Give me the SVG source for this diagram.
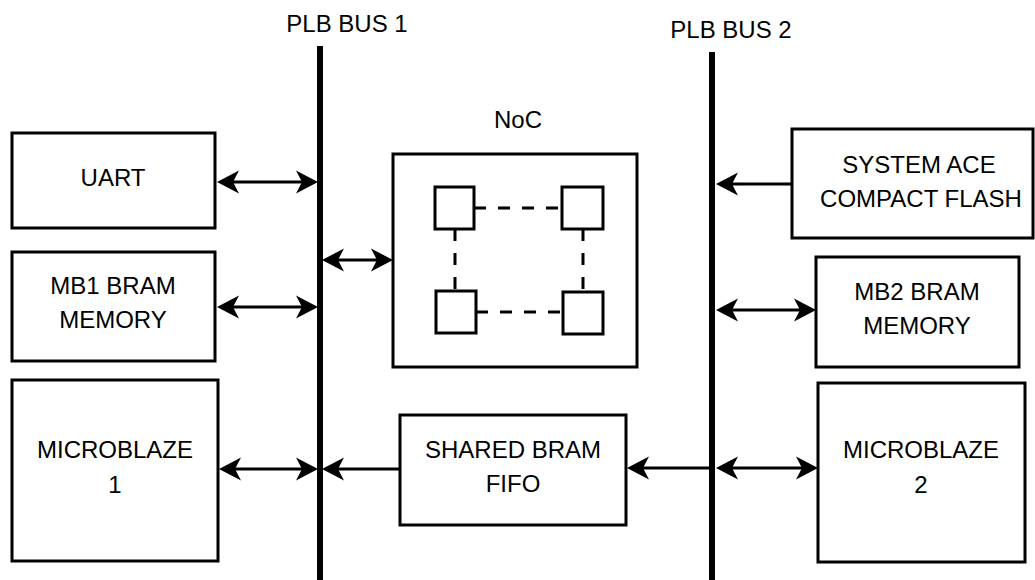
<svg xmlns="http://www.w3.org/2000/svg" width="1035" height="580" viewBox="0 0 1035 580">
<style>
.box{fill:#fff;stroke:#000;stroke-width:3}
.sq{fill:#fff;stroke:#000;stroke-width:3}
.bus{stroke:#000;stroke-width:6}
.dash{stroke:#000;stroke-width:3;stroke-dasharray:12,12;fill:none}
.con{stroke:#000;stroke-width:3;fill:none}
text{font-family:"Liberation Sans",Arial,sans-serif;font-size:24px;fill:#000;text-anchor:middle}
</style>
<defs>
<marker id="ah" markerUnits="userSpaceOnUse" markerWidth="24" markerHeight="26" refX="6" refY="12" orient="auto-start-reverse">
<path d="M0,0.5 L22,12 L0,23.5 L6,12 Z" fill="#000"/>
</marker>
</defs>
<g id="bus1"><line class="bus" x1="320" y1="46" x2="320" y2="580"/><text x="347" y="32">PLB BUS 1</text></g>
<g id="bus2"><line class="bus" x1="712" y1="52" x2="712" y2="580"/><text x="731" y="38">PLB BUS 2</text></g>
<g id="uart"><rect class="box" x="12" y="133" width="203" height="95"/><text x="113" y="186">UART</text></g>
<g id="mb1bram"><rect class="box" x="12" y="252" width="203" height="109"/><text x="113" y="294">MB1 BRAM</text><text x="113" y="328">MEMORY</text></g>
<g id="mb1"><rect class="box" x="12" y="380" width="206" height="181"/><text x="115" y="458">MICROBLAZE</text><text x="115" y="493">1</text></g>
<g id="noc">
<text x="518" y="128">NoC</text>
<rect class="box" x="393" y="154" width="244" height="213"/>
<line class="dash" x1="474" y1="208" x2="562" y2="208"/>
<line class="dash" x1="476" y1="312" x2="563" y2="312"/>
<line class="dash" x1="455" y1="229" x2="455" y2="291"/>
<line class="dash" x1="583" y1="229" x2="583" y2="292"/>
<rect class="sq" x="435" y="187" width="39" height="42"/>
<rect class="sq" x="562" y="187" width="41" height="42"/>
<rect class="sq" x="436" y="291" width="40" height="42"/>
<rect class="sq" x="563" y="292" width="40" height="42"/>
</g>
<g id="fifo"><rect class="box" x="400" y="415" width="226" height="110"/><text x="513" y="458">SHARED BRAM</text><text x="513" y="492">FIFO</text></g>
<g id="sysace"><rect class="box" x="792" y="129" width="241" height="109"/><text x="919" y="173">SYSTEM ACE</text><text x="921" y="207">COMPACT FLASH</text></g>
<g id="mb2bram"><rect class="box" x="816" y="257" width="203" height="110"/><text x="917" y="300">MB2 BRAM</text><text x="917" y="334">MEMORY</text></g>
<g id="mb2"><rect class="box" x="818" y="383" width="207" height="179"/><text x="921" y="458">MICROBLAZE</text><text x="921" y="493">2</text></g>
<g id="connectors">
<line class="con" x1="233" y1="182" x2="302" y2="182" marker-start="url(#ah)" marker-end="url(#ah)"/>
<line class="con" x1="233" y1="307" x2="302" y2="307" marker-start="url(#ah)" marker-end="url(#ah)"/>
<line class="con" x1="338" y1="260" x2="377" y2="260" marker-start="url(#ah)" marker-end="url(#ah)"/>
<line class="con" x1="235" y1="469" x2="302" y2="469" marker-start="url(#ah)" marker-end="url(#ah)"/>
<line class="con" x1="400" y1="469" x2="338" y2="469" marker-end="url(#ah)"/>
<line class="con" x1="792" y1="184" x2="732" y2="184" marker-end="url(#ah)"/>
<line class="con" x1="732" y1="310" x2="800" y2="310" marker-start="url(#ah)" marker-end="url(#ah)"/>
<line class="con" x1="712" y1="468" x2="643" y2="468" marker-end="url(#ah)"/>
<line class="con" x1="732" y1="468" x2="802" y2="468" marker-start="url(#ah)" marker-end="url(#ah)"/>
</g>
</svg>
